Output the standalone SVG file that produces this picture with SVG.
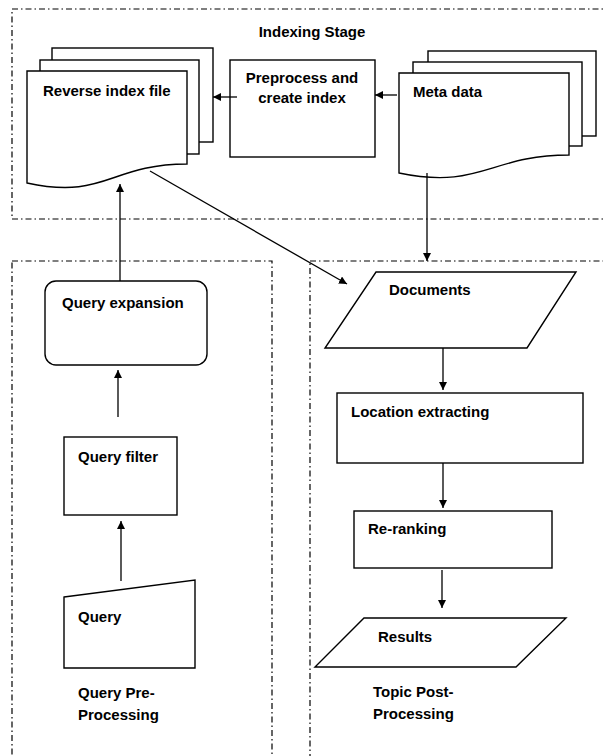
<svg xmlns="http://www.w3.org/2000/svg" width="603" height="756" viewBox="0 0 603 756">
<defs>
<marker id="ah" viewBox="0 0 10 10" refX="10" refY="5" markerWidth="8" markerHeight="8" markerUnits="userSpaceOnUse" orient="auto">
<path d="M0,0 L10,5 L0,10 Z" fill="#000"/>
</marker>
</defs>
<style>
.stage{fill:none;stroke:#000;stroke-width:1.2;stroke-dasharray:6 3 1.5 3}
.shape{fill:#fff;stroke:#000;stroke-width:1.4}
.con{fill:none;stroke:#000;stroke-width:1.3;marker-end:url(#ah)}
text{font-family:"Liberation Sans",Arial,sans-serif;font-weight:bold;font-size:15px;fill:#000}
</style>
<rect width="603" height="756" fill="#fff"/>
<g id="indexing-stage">
<rect class="stage" x="12" y="9" width="600" height="210"/>
<text x="312" y="37" text-anchor="middle">Indexing Stage</text>
</g>
<g id="query-preprocessing">
<rect class="stage" x="12" y="261" width="260" height="520"/>
<text x="78" y="698">Query Pre-</text>
<text x="78" y="720">Processing</text>
</g>
<g id="topic-postprocessing">
<rect class="stage" x="310" y="261" width="310" height="520"/>
<text x="373" y="697">Topic Post-</text>
<text x="373" y="719">Processing</text>
</g>
<g id="reverse-index">
<rect class="shape" x="52" y="48" width="161" height="94"/>
<rect class="shape" x="40" y="60" width="159" height="94"/>
<path class="shape" d="M27,71 H187 V164 C110,164 105,200 27,183 Z"/>
<text x="43" y="96">Reverse index file</text>
</g>
<g id="preprocess">
<rect class="shape" x="230" y="60" width="145" height="97"/>
<text x="302" y="83" text-anchor="middle">Preprocess and</text>
<text x="302" y="103" text-anchor="middle">create index</text>
</g>
<g id="meta-data">
<rect class="shape" x="428" y="51" width="168" height="85"/>
<rect class="shape" x="413" y="62" width="169" height="84"/>
<path class="shape" d="M399,73 H569 V155 C490,155 480,190 399,173 Z"/>
<text x="413" y="97">Meta data</text>
</g>
<g id="query-expansion">
<rect class="shape" x="45" y="281" width="162" height="84" rx="11"/>
<text x="62" y="308">Query expansion</text>
</g>
<g id="query-filter">
<rect class="shape" x="64" y="437" width="113" height="78"/>
<text x="78" y="462">Query filter</text>
</g>
<g id="query">
<path class="shape" d="M64,597 L195,580 V668 H64 Z"/>
<text x="78" y="622">Query</text>
</g>
<g id="documents">
<path class="shape" d="M376,272 H576 L527,348 H325 Z"/>
<text x="389" y="295">Documents</text>
</g>
<g id="location-extracting">
<rect class="shape" x="337" y="393" width="246" height="70"/>
<text x="351" y="417">Location extracting</text>
</g>
<g id="re-ranking">
<rect class="shape" x="354" y="511" width="198" height="57"/>
<text x="368" y="534">Re-ranking</text>
</g>
<g id="results">
<path class="shape" d="M364,618 H566 L516,667 H315 Z"/>
<text x="378" y="642">Results</text>
</g>
<g id="connectors">
<line class="con" x1="237" y1="97" x2="213" y2="97"/>
<line class="con" x1="397" y1="95" x2="375" y2="95"/>
<line class="con" x1="427" y1="173" x2="427" y2="261"/>
<line class="con" x1="150" y1="171" x2="347" y2="284"/>
<line class="con" x1="120" y1="281" x2="120" y2="184"/>
<line class="con" x1="118" y1="417" x2="118" y2="370"/>
<line class="con" x1="121" y1="581" x2="121" y2="521"/>
<line class="con" x1="443" y1="348" x2="443" y2="390"/>
<line class="con" x1="443" y1="463" x2="443" y2="508"/>
<line class="con" x1="442" y1="570" x2="442" y2="608"/>
</g>
</svg>
